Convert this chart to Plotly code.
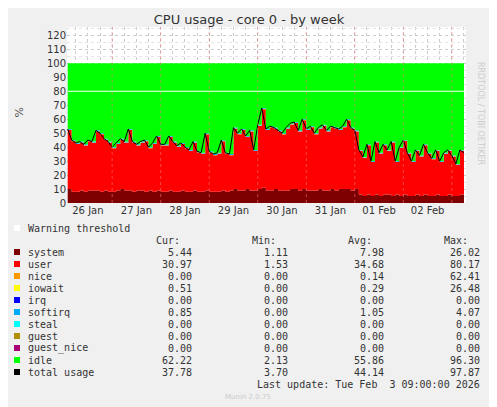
import plotly.graph_objects as go
import pandas as pd

total = [53,45,43,44,42,45,44,52,50,46,44,40,
         43,46,44,53,44,42,44,45,40,43,48,42,
         42,48,44,41,43,40,38,44,37,36,50,37,
         35,36,45,36,35,54,50,53,48,52,38,56,
         68,53,55,54,52,50,54,57,58,52,60,53,
         55,50,54,56,52,55,54,53,55,60,54,52,
         38,33,42,30,44,36,42,38,44,30,40,45,
         36,30,38,34,42,36,32,38,30,36,38,34,
         28,38,36]
system = [10,8,8,9,8,9,9,9,8,9,8,8,
          9,10,9,9,8,9,9,8,9,8,9,8,
          8,9,8,8,9,8,8,9,8,8,9,8,
          8,8,9,8,9,10,9,9,10,9,9,10,
          11,9,9,10,9,9,9,10,10,9,10,9,
          9,9,10,9,9,10,9,10,10,10,9,10,
          6,5,6,5,6,5,6,6,5,6,5,6,
          5,5,6,5,6,5,5,6,5,5,6,5,
          5,6,5]
iowait = [0.2]*len(total)
softirq = [0.6]*72 + [0.5]*27
idle = [100 - t for t in total]
user = [t - s - i - q for t, s, i, q in zip(total, system, iowait, softirq)]
times = pd.date_range("2026-01-26 02:00", periods=len(total), freq="2h")
day_labels = ["26 Jan","27 Jan","28 Jan","29 Jan","30 Jan","31 Jan","01 Feb","02 Feb"]
day_noons = pd.date_range("2026-01-26 12:00", periods=8, freq="D")
midnights = pd.date_range("2026-01-26", periods=9, freq="D")
names = ["system","user","nice","iowait","irq","softirq","steal","guest","guest_nice","idle","total usage"]
colors = ["#7f0000","#ff0000","#ff9900","#ffff00","#0000ff","#00aaff","#00ffff","#b09000","#aa0077","#00ff00","#000000"]
cur = ["5.44","30.97","0.00","0.51","0.00","0.85","0.00","0.00","0.00","62.22","37.78"]
mn = ["1.11","1.53","0.00","0.00","0.00","0.00","0.00","0.00","0.00","2.13","3.70"]
avg = ["7.98","34.68","0.14","0.29","0.00","1.05","0.00","0.00","0.00","55.86","44.14"]
mx = ["26.02","80.17","62.41","26.48","0.00","4.07","0.00","0.00","0.00","96.30","97.87"]

fig = go.Figure()
stacks = [("system", system, colors[0]), ("user", user, colors[1]), ("iowait", iowait, colors[3]),
          ("softirq", softirq, colors[5]), ("idle", idle, colors[9])]
for n, v, c in stacks:
    fig.add_trace(go.Scatter(x=times, y=v, name=n, stackgroup="a", mode="none",
                             fillcolor=c, line=dict(shape="hv")))
fig.add_trace(go.Scatter(x=times, y=total, mode="lines", line=dict(color="black", width=1)))
fig.add_trace(go.Scatter(x=[times[0], times[-1] + pd.Timedelta("2h")], y=[80, 80], mode="lines",
                         line=dict(color="white", width=1)))

OFF = 8  # page body margin
W, H = 497 - OFF, 407 - OFF
L, R, T, B = 67 - OFF, 466 - OFF, 27 - OFF, 203 - OFF
def px(x): return (x - OFF - L) / (R - L)
def py(y): return (B - (y - OFF)) / (B - T)
mono = dict(family="DejaVu Sans Mono", size=10, color="#333")
ann = []
shapes = []
for m in midnights:
    shapes.append(dict(type="line", xref="x", yref="paper", x0=m, x1=m, y0=0, y1=1,
                       line=dict(color="rgba(230,120,120,0.6)", width=1, dash="dot"), layer="above"))
ann.append(dict(x=px(26), y=py(228), text="Warning threshold", xanchor="left"))
shapes.append(dict(type="rect", xref="paper", yref="paper", x0=px(14), x1=px(20), y0=py(225), y1=py(231),
                   fillcolor="white", line=dict(width=0)))
for h, xr in zip(["Cur:","Min:","Avg:","Max:"], [182, 278, 374, 470]):
    ann.append(dict(x=px(xr), y=py(240), text=h, xanchor="right"))
for i, n in enumerate(names):
    yy = 252 + 12 * i
    shapes.append(dict(type="rect", xref="paper", yref="paper", x0=px(14), x1=px(20), y0=py(yy-3), y1=py(yy+3),
                       fillcolor=colors[i], line=dict(width=0)))
    ann.append(dict(x=px(26), y=py(yy), text=n, xanchor="left"))
    for vals, xr in zip([cur, mn, avg, mx], [194, 290, 386, 482]):
        ann.append(dict(x=px(xr), y=py(yy), text=vals[i], xanchor="right"))
ann.append(dict(x=px(482), y=py(384), text="Last update: Tue Feb  3 09:00:00 2026", xanchor="right"))
for a in ann:
    a.update(xref="paper", yref="paper", showarrow=False, font=mono, yanchor="middle")
ann.append(dict(x=px(248), y=py(397), xref="paper", yref="paper", showarrow=False, text="Munin 2.0.75",
                yanchor="middle", font=dict(family="DejaVu Sans", size=7, color="#ccc")))
ann.append(dict(x=px(10), y=py(113), xref="paper", yref="paper", showarrow=False, text="%", textangle=-90,
                font=dict(family="DejaVu Sans", size=11, color="#555")))
ann.append(dict(x=px(487), y=py(60), xref="paper", yref="paper", showarrow=False, text="RRDTOOL / TOBI OETIKER",
                textangle=90, font=dict(family="DejaVu Sans", size=8, color="#ccc")))

fig.update_layout(
    width=W, height=H, margin=dict(l=L, r=W-R, t=T, b=H-B),
    paper_bgcolor="#f0f0f0", plot_bgcolor="white", showlegend=False,
    title=dict(text="CPU usage - core 0 - by week", x=(249-OFF)/W, y=1-(19-OFF)/H, xanchor="center",
               yanchor="middle", font=dict(family="DejaVu Sans", size=13, color="#333")),
    xaxis=dict(range=[pd.Timestamp("2026-01-26 01:40"), pd.Timestamp("2026-02-03 07:00")],
               tickvals=list(day_noons), ticktext=day_labels, showgrid=False, ticks="",
               tickfont=dict(family="DejaVu Sans", size=10, color="#333"),
               minor=dict(dtick=6*3600*1000, showgrid=True, gridcolor="#ccc", griddash="dot"),
               showline=False, zeroline=False),
    yaxis=dict(range=[0, 126], dtick=10, gridcolor="#ccc", griddash="dot", zeroline=False,
               tickfont=dict(family="DejaVu Sans", size=10, color="#333"),
               minor=dict(dtick=5, showgrid=True, gridcolor="#e4e4e4", griddash="dot")),
    annotations=ann, shapes=shapes,
)
fig.write_html("out.html")
